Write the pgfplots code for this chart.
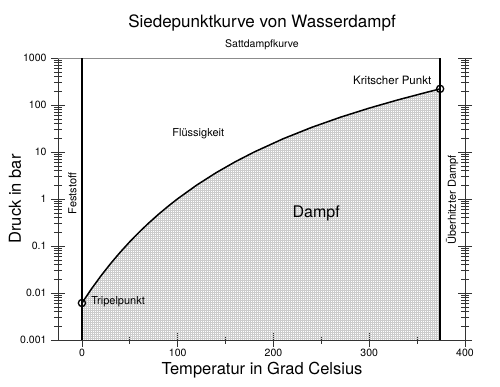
\documentclass[border=0pt]{standalone}
\usepackage{pgfplots}
\pgfplotsset{compat=1.18}
\usepackage{fontspec}
\setmainfont{TeX Gyre Heros}
\usetikzlibrary{patterns}
\pgfdeclarepatternformonly{finegrid}{\pgfqpoint{-0.1pt}{-0.1pt}}{\pgfqpoint{2.1pt}{2.1pt}}{\pgfqpoint{2pt}{2pt}}{%
  \pgfsetlinewidth{0.4pt}
  \pgfpathmoveto{\pgfqpoint{0pt}{0pt}}\pgfpathlineto{\pgfqpoint{2.1pt}{0pt}}
  \pgfpathmoveto{\pgfqpoint{0pt}{0pt}}\pgfpathlineto{\pgfqpoint{0pt}{2.1pt}}
  \pgfusepath{stroke}}
\begin{document}
\begin{tikzpicture}
\useasboundingbox (-58pt,-46pt) rectangle (442pt,340pt);
\begin{axis}[
  scale only axis, width=407pt, height=282pt,
  xmin=-25, xmax=400, ymin=1e-3, ymax=1e3, ymode=log,
  axis line style={draw=none},
  xtick={0,100,200,300,400}, minor xtick={50,150,250,350},
  ytick={1e-3,1e-2,1e-1,1,10,100,1000},
  yticklabels={0.001,0.01,0.1,1,10,100,1000},
  xtick pos=bottom, ytick pos=both, yticklabel pos=left,
  tick align=center,
  major tick length=14pt, minor tick length=8pt,
  x tick style={black!80, line width=0.7pt},
  y tick style={black!80, line width=0.7pt},
  every tick label/.style={font=\fontsize{10.5}{12}\selectfont},
  /pgf/number format/assume math mode=true,
  xticklabel style={yshift=1pt},
  yticklabel style={xshift=-1pt},
  clip=false,
]
% fill region
\addplot[draw=none, pattern=finegrid, pattern color=black!20] coordinates {
(0.01,0.00612) (10,0.01228) (20,0.02339) (30,0.04246) (40,0.07384) (50,0.1235)
(60,0.1994) (70,0.3119) (80,0.4739) (90,0.7014) (100,1.0142) (120,1.9867)
(140,3.6154) (160,6.1823) (180,10.028) (210,19.08) (240,33.47) (270,55.05)
(300,85.88) (330,128.6) (360,186.5) (374,220.6) (374,0.001) (0.01,0.001)} -- cycle;
% frame
\draw[black!80, line width=0.8pt] (rel axis cs:0,1) -- (rel axis cs:0,0) -- (rel axis cs:1,0) -- (rel axis cs:1,1);
\draw[black!45, line width=0.8pt] (rel axis cs:0,1) -- (axis cs:374,1000);
% vertical lines
\addplot[black, line width=1.6pt] coordinates {(0,0.001) (0,1000)};
\addplot[black, line width=1.6pt] coordinates {(374,0.001) (374,1000)};
% curve
\addplot[black, line width=1.5pt] coordinates {
(0.01,0.00612) (10,0.01228) (20,0.02339) (30,0.04246) (40,0.07384) (50,0.1235)
(60,0.1994) (70,0.3119) (80,0.4739) (90,0.7014) (100,1.0142) (120,1.9867)
(140,3.6154) (160,6.1823) (180,10.028) (210,19.08) (240,33.47) (270,55.05)
(300,85.88) (330,128.6) (360,186.5) (374,220.6)};
\addplot[only marks, mark=o, mark size=3.6pt, mark options={line width=1.3pt, fill=none}] coordinates {(0.01,0.00612) (374,220.6)};
% labels
\node[font=\fontsize{11.5}{13}\selectfont] at (axis cs:324,340) {Kritscher Punkt};
\node[font=\fontsize{11}{13}\selectfont] at (axis cs:121.5,24.2) {Flüssigkeit};
\node[font=\fontsize{16}{19}\selectfont] at (axis cs:244.6,0.503) {Dampf};
\node[font=\fontsize{11}{13}\selectfont, anchor=west, inner sep=0pt] at (axis cs:9.7,0.00645) {Tripelpunkt};
\node[font=\fontsize{11}{13}\selectfont, rotate=90] at (axis cs:-10,1.3) {Feststoff};
\node[font=\fontsize{11}{13}\selectfont, rotate=90] at (axis cs:386.5,0.95) {Überhitzter Dampf};
\end{axis}
\node[font=\fontsize{17}{20}\selectfont] at (204pt,317pt) {Siedepunktkurve von Wasserdampf};
\node[font=\fontsize{10.5}{12}\selectfont] at (204pt,295pt) {Sattdampfkurve};
\node[font=\fontsize{16.5}{19}\selectfont] at (204pt,-30pt) {Temperatur in Grad Celsius};
\node[font=\fontsize{16.5}{19}\selectfont, rotate=90] at (-43pt,141pt) {Druck in bar};
\end{tikzpicture}
\end{document}
